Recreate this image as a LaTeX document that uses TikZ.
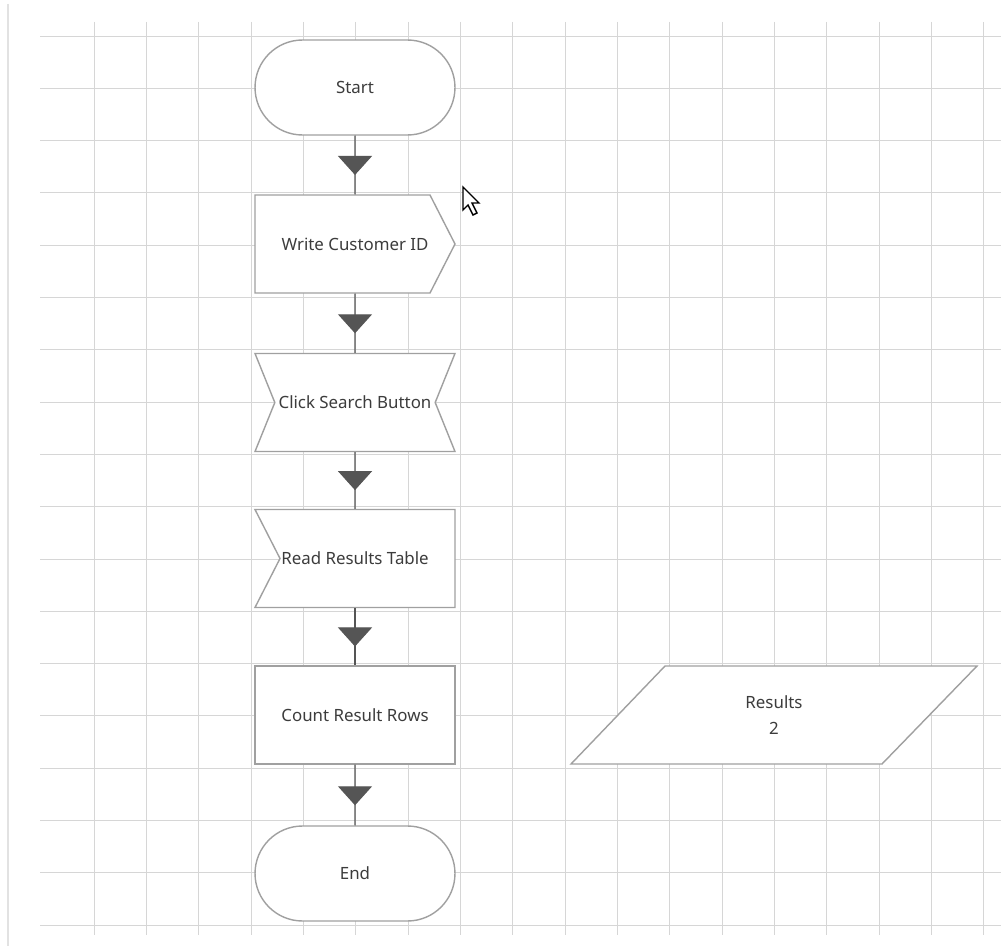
\documentclass[tikz,border=0pt]{standalone}
\usepackage{fontspec}
\setmainfont{Noto Sans}
\usepackage{tikz}
\usetikzlibrary{calc,shapes.misc,shapes.symbols,arrows.meta,decorations.markings}
\definecolor{gridgray}{HTML}{D6D6D6}
\definecolor{edgegray}{HTML}{A0A0A0}
\definecolor{inkgray}{HTML}{3C3C3C}
\definecolor{flowgray}{HTML}{555555}

\begin{document}
\begin{tikzpicture}[x=0.02cm,y=-0.02cm,
  edge/.style={draw=edgegray,line width=0.8pt,fill=white,line join=miter},
  box/.style={edge,text=inkgray,font=\fontsize{9.6}{14.6}\selectfont,
    minimum width=4cm,minimum height=1.96cm,inner sep=0pt,align=center},
  plain/.style={box,draw=none,fill=none},
  term/.style={box,rounded rectangle,minimum height=1.9cm},
  clickbox/.style={box,signal,signal from=west and east,signal to=nowhere,signal pointer angle=136},
  flow/.style={flowgray,line width=0.6pt,postaction={decorate},
    decoration={markings,mark=at position 0.67 with {\arrow[flowgray]{Triangle[width=0.68cm,length=0.38cm]}}}}]
\useasboundingbox[fill=white] (0,0) rectangle (1001,946);
\draw[gridgray!70,line width=0.6pt] (8,4) -- (8,946);
\foreach \i in {0,...,17}
  \draw[gridgray,line width=0.55pt] ({94+52.35*\i},22) -- ({94+52.35*\i},935);
\foreach \j in {0,...,17}
  \draw[gridgray,line width=0.55pt] (40,{36+52.3*\j}) -- (1001,{36+52.3*\j});

% outlines of the odd shapes first, text nodes on top
\path (355,244) coordinate (w) (355,558.5) coordinate (r) (774,715) coordinate (d);
\draw[edge] ($(w)+(-100,-49)$) -- ($(w)+(75,-49)$) -- ($(w)+(100,0)$) -- ($(w)+(75,49)$) -- ($(w)+(-100,49)$) -- cycle;
\draw[edge] ($(r)+(-100,-49)$) -- ($(r)+(100,-49)$) -- ($(r)+(100,49)$) -- ($(r)+(-100,49)$) -- ($(r)+(-75,0)$) -- cycle;
\draw[edge] ($(d)+(-109,-49)$) -- ($(d)+(203,-49)$) -- ($(d)+(108,49)$) -- ($(d)+(-203,49)$) -- cycle;

\node[term] (start) at (355,87.5) {Start};
\node[plain] (write) at (w) {Write Customer ID};
\node[clickbox] (click) at (355,402.5) {Click Search Button};
\node[plain] (read) at (r) {Read Results Table};
\node[box] (count) at (355,715) {Count Result Rows};
\node[term] (end) at (355,873.5) {End};
\node[plain] (results) at (d) {Results\\2};

\draw[flow] (start) -- (write);
\draw[flow] (write) -- (click);
\draw[flow] (click) -- (read);
\draw[flow] (read) -- (count);
\draw[flow] (count) -- (end);

\draw[fill=white,line width=0.8pt,line join=miter] (463,187) -- (463,210) -- (468,205) -- (473,215) -- (477,213) -- (472,203) -- (479,203) -- cycle;
\end{tikzpicture}
\end{document}
